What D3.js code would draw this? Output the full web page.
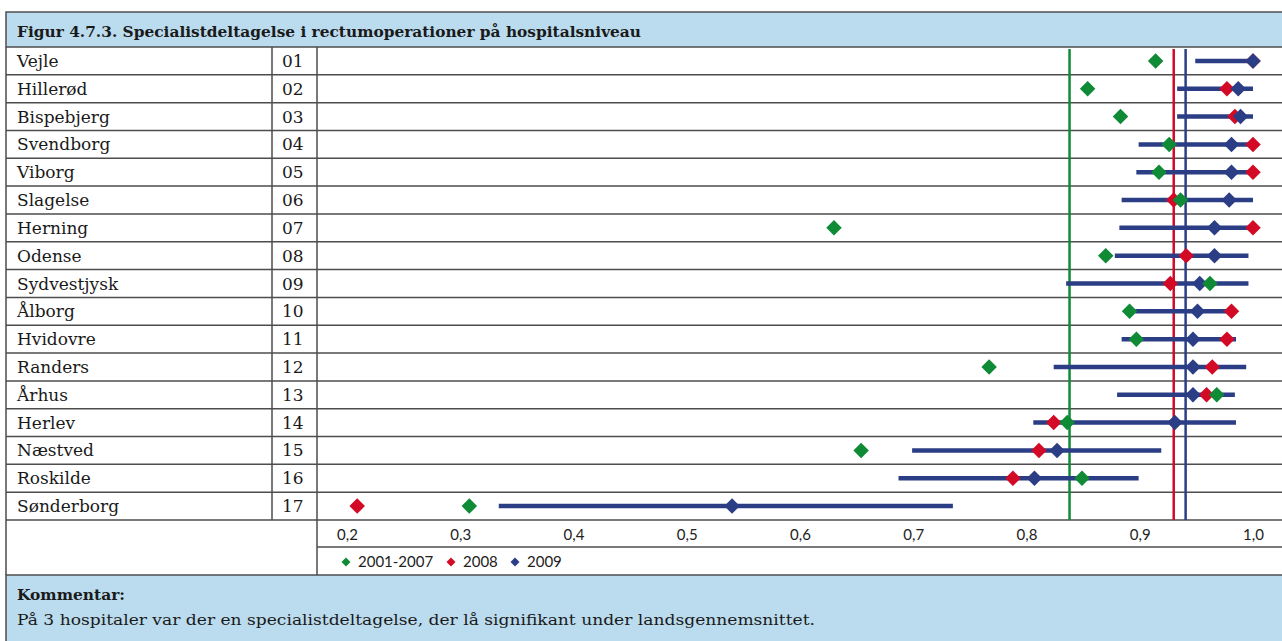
<!DOCTYPE html>
<html>
<head>
<meta charset="utf-8">
<script src="https://cdn.jsdelivr.net/npm/d3@7"></script>
<style>
  body { margin: 0; background: #fff; }
  svg { display: block; }
</style>
</head>
<body>
<div class="d3_canvas"></div>
<script>
var width = 1282, height = 641;

var hospitals = ["Vejle", "Hillerød", "Bispebjerg", "Svendborg", "Viborg", "Slagelse", "Herning", "Odense",
  "Sydvestjysk", "Ålborg", "Hvidovre", "Randers", "Århus", "Herlev", "Næstved", "Roskilde", "Sønderborg"];
var codes = ["01", "02", "03", "04", "05", "06", "07", "08", "09", "10", "11", "12", "13", "14", "15", "16", "17"];
var v2001_2007 = [0.914, 0.854, 0.883, 0.926, 0.917, 0.936, 0.630, 0.870, 0.962, 0.891, 0.897, 0.767, 0.968, 0.836, 0.654, 0.849, 0.308];
var v2008 = [1.0, 0.977, 0.984, 1.0, 1.0, 0.930, 1.0, 0.941, 0.927, 0.981, 0.977, 0.964, 0.959, 0.824, 0.811, 0.788, 0.209];
var v2009 = [1.0, 0.987, 0.989, 0.981, 0.981, 0.979, 0.966, 0.966, 0.953, 0.951, 0.947, 0.947, 0.947, 0.931, 0.827, 0.807, 0.540];
var ciLow = [0.949, 0.933, 0.933, 0.899, 0.897, 0.884, 0.882, 0.878, 0.835, 0.896, 0.884, 0.824, 0.880, 0.806, 0.699, 0.687, 0.334];
var ciHigh = [1.0, 1.0, 1.0, 1.0, 1.0, 1.0, 1.0, 0.996, 0.996, 0.982, 0.985, 0.994, 0.984, 0.985, 0.919, 0.899, 0.735];
var refLines = [0.838, 0.930, 0.9405];   // landsgennemsnit 2001-2007, 2008, 2009
var xTicks = [0.2, 0.3, 0.4, 0.5, 0.6, 0.7, 0.8, 0.9, 1.0];
var seriesNames = ["2001-2007", "2008", "2009"];
var colors = ["#0f8a35", "#d20a26", "#2b3e85"];

var left = 6, right = 1281,
    titleTop = 12, titleBottom = 47,
    rowTop = 47, rowBottom = 520,
    axisBottom = 547, legendBottom = 575,
    codeX = 272, plotX = 317;
var border = "#4d4d4d", fillBlue = "#badcee";

var svg = d3.select(".d3_canvas")
  .append("svg")
    .attr("width", width)
    .attr("height", height);

var x = d3.scaleLinear().domain([0.2, 1.0]).range([347, 1253]);
var y = d3.scaleBand().domain(hospitals).range([rowTop, rowBottom]);

// title bar
svg.append("rect")
  .attr("x", left).attr("y", titleTop)
  .attr("width", right - left + 4).attr("height", titleBottom - titleTop)
  .style("fill", fillBlue).style("stroke", border).style("stroke-width", 1.5);
svg.append("text")
  .attr("x", 17).attr("y", 37)
  .attr("textLength", 624).attr("lengthAdjust", "spacingAndGlyphs")
  .style("font-family", "DejaVu Serif").style("font-weight", "bold").style("font-size", "15px")
  .style("fill", "#1a1a1a")
  .text("Figur 4.7.3. Specialistdeltagelse i rectumoperationer på hospitalsniveau");

// comment box
svg.append("rect")
  .attr("x", left).attr("y", legendBottom)
  .attr("width", right - left + 4).attr("height", height - legendBottom + 4)
  .style("fill", fillBlue).style("stroke", border).style("stroke-width", 1.5);
svg.append("text")
  .attr("x", 17).attr("y", 600)
  .attr("textLength", 108).attr("lengthAdjust", "spacingAndGlyphs")
  .style("font-family", "DejaVu Serif").style("font-weight", "bold").style("font-size", "15px")
  .style("fill", "#1a1a1a")
  .text("Kommentar:");
svg.append("text")
  .attr("x", 17).attr("y", 625)
  .attr("textLength", 798).attr("lengthAdjust", "spacingAndGlyphs")
  .style("font-family", "DejaVu Serif").style("font-size", "15px")
  .style("fill", "#1a1a1a")
  .text("På 3 hospitaler var der en specialistdeltagelse, der lå signifikant under landsgennemsnittet.");

// table grid
var grid = svg.append("g").style("stroke", border).style("stroke-width", 1.5).style("fill", "none");
grid.append("line").attr("x1", left).attr("x2", left).attr("y1", titleBottom).attr("y2", legendBottom);
grid.append("line").attr("x1", codeX).attr("x2", codeX).attr("y1", rowTop).attr("y2", rowBottom);
grid.append("line").attr("x1", plotX).attr("x2", plotX).attr("y1", rowTop).attr("y2", legendBottom);
grid.selectAll(".hline")
  .data(hospitals.slice(1))
  .enter().append("line")
    .attr("x1", left).attr("x2", right + 2)
    .attr("y1", function(d) { return y(d); })
    .attr("y2", function(d) { return y(d); });
grid.append("line").attr("x1", left).attr("x2", right + 2).attr("y1", rowBottom).attr("y2", rowBottom);
grid.append("line").attr("x1", plotX).attr("x2", right + 2).attr("y1", axisBottom).attr("y2", axisBottom);

// row labels
var labels = svg.append("g")
  .style("font-family", "DejaVu Serif").style("font-size", "17px").style("fill", "#1a1a1a");
labels.selectAll(".name")
  .data(hospitals)
  .enter().append("text")
    .attr("x", 17)
    .attr("y", function(d) { return y(d) + y.bandwidth() / 2 + 6; })
    .text(function(d) { return d; });
labels.selectAll(".code")
  .data(codes)
  .enter().append("text")
    .attr("x", 282)
    .attr("y", function(d, i) { return y(hospitals[i]) + y.bandwidth() / 2 + 6; })
    .text(function(d) { return d; });

// x axis labels
var axis = svg.append("g")
  .attr("transform", "translate(0," + 540 + ")")
  .call(d3.axisBottom(x).tickValues(xTicks).tickSize(0).tickPadding(0)
    .tickFormat(function(d) { return d3.format(".1f")(d).replace(".", ","); }));
axis.select(".domain").remove();
axis.selectAll("text")
  .attr("dy", 0)
  .style("font-family", "Lato").style("font-size", "15px").style("fill", "#222");

// reference lines
svg.selectAll(".ref")
  .data(refLines)
  .enter().append("line")
    .attr("x1", function(d) { return x(d); })
    .attr("x2", function(d) { return x(d); })
    .attr("y1", rowTop + 2).attr("y2", rowBottom)
    .style("stroke", function(d, i) { return colors[i]; })
    .style("stroke-width", 2.5);

// confidence bars for 2009
svg.selectAll(".ci")
  .data(hospitals)
  .enter().append("line")
    .attr("x1", function(d, i) { return x(ciLow[i]); })
    .attr("x2", function(d, i) { return x(ciHigh[i]); })
    .attr("y1", function(d) { return y(d) + y.bandwidth() / 2; })
    .attr("y2", function(d) { return y(d) + y.bandwidth() / 2; })
    .style("stroke", colors[2])
    .style("stroke-width", 4.5);

var diamond = d3.symbol().type(d3.symbolSquare).size(120);

function drawSeries(values, color) {
  svg.append("g").selectAll("path")
    .data(values)
    .enter().append("path")
      .attr("d", diamond)
      .attr("transform", function(d, i) {
        return "translate(" + x(d) + "," + (y(hospitals[i]) + y.bandwidth() / 2) + ") rotate(45)";
      })
      .style("fill", color);
}
drawSeries(v2008, colors[1]);
drawSeries(v2009, colors[2]);
drawSeries(v2001_2007, colors[0]);

// legend
var legendX = [346, 451, 515];
var legend = svg.append("g");
seriesNames.forEach(function(name, i) {
  legend.append("path")
    .attr("d", d3.symbol().type(d3.symbolSquare).size(40))
    .attr("transform", "translate(" + legendX[i] + ",562) rotate(45)")
    .style("fill", colors[i]);
  legend.append("text")
    .attr("x", legendX[i] + 12).attr("y", 567)
    .style("font-family", "Lato").style("font-size", "15px").style("fill", "#222")
    .text(name);
});
</script>
</body>
</html>
